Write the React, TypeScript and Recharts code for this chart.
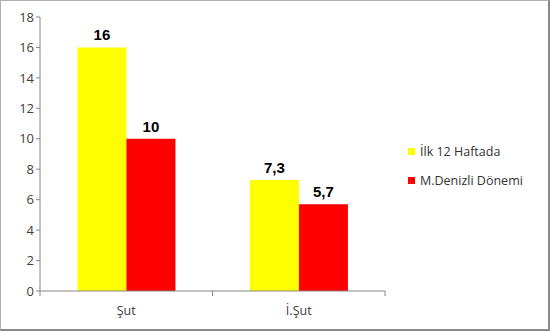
import React from "react";
import { BarChart, Bar, XAxis, YAxis, LabelList } from "recharts";

const categories = ["Şut", "İ.Şut"];
const ilk12Haftada = [16, 7.3];
const mDenizliDonemi = [10, 5.7];
const yTicks = [0, 2, 4, 6, 8, 10, 12, 14, 16, 18];
const seriesNames = ["İlk 12 Haftada", "M.Denizli Dönemi"];
const seriesColors = ["#ffff00", "#ff0000"];

const data = categories.map((name, i) => ({
  name,
  ilk: ilk12Haftada[i],
  denizli: mDenizliDonemi[i],
}));

const W = 550;
const H = 331;
const margin = { top: 17, right: 165, bottom: 10, left: 0 };
const yAxisWidth = 40;
const halfBand = (W - margin.left - margin.right - yAxisWidth) / categories.length / 2;

const axisColor = "#868686";
const font = "'Open Sans', sans-serif";

const fmt = (v: number) => String(v).replace(".", ",");

const XTick = (props: any) => {
  const { x, y, payload, index } = props;
  return (
    <g>
      {index === 0 && (
        <line x1={x - halfBand} x2={x - halfBand} y1={y - 8} y2={y - 3} stroke={axisColor} />
      )}
      <line x1={x + halfBand} x2={x + halfBand} y1={y - 8} y2={y - 3} stroke={axisColor} />
      <text x={x} y={y + 16} textAnchor="middle" fontSize={12.5} fill="#404040" fontFamily={font}>
        {payload.value}
      </text>
    </g>
  );
};

const labelStyle = {
  fontSize: 15,
  fontWeight: "bold",
  fill: "#000",
  fontFamily: "'Liberation Sans', Arial, sans-serif",
};

export default function App() {
  return (
    <div
      style={{
        position: "absolute",
        left: 0,
        top: 0,
        width: W,
        height: H,
        boxSizing: "border-box",
        borderTop: "1px solid #b0b0b0",
        borderLeft: "1px solid #b0b0b0",
        borderRight: "2px solid #8a8a8a",
        borderBottom: "2px solid #8a8a8a",
        background: "#fff",
        overflow: "hidden",
      }}
    >
      <div style={{ position: "absolute", left: -1, top: -1 }}>
        <BarChart width={W} height={H} data={data} margin={margin} barCategoryGap="21.7%" barGap={0}>
          <XAxis dataKey="name" stroke={axisColor} tickLine={false} tick={<XTick />} height={30} />
          <YAxis
            domain={[0, 18]}
            ticks={yTicks}
            width={yAxisWidth}
            stroke={axisColor}
            tickSize={4}
            tick={{ fontSize: 13, fill: "#404040", fontFamily: font }}
            interval={0}
          />
          <Bar dataKey="ilk" fill={seriesColors[0]} isAnimationActive={false}>
            <LabelList dataKey="ilk" position="top" offset={7} formatter={(v: any) => fmt(v)} style={labelStyle} />
          </Bar>
          <Bar dataKey="denizli" fill={seriesColors[1]} isAnimationActive={false}>
            <LabelList dataKey="denizli" position="top" offset={7} formatter={(v: any) => fmt(v)} style={labelStyle} />
          </Bar>
        </BarChart>
      </div>
      <div
        style={{
          position: "absolute",
          left: 407,
          top: 136,
          fontFamily: font,
          fontSize: 12.5,
          color: "#333",
        }}
      >
        {seriesNames.map((label, i) => (
          <div key={label} style={{ display: "flex", alignItems: "center", height: 29 }}>
            <span
              style={{ width: 7, height: 7, background: seriesColors[i], marginRight: 5, display: "inline-block" }}
            />
            {label}
          </div>
        ))}
      </div>
    </div>
  );
}
